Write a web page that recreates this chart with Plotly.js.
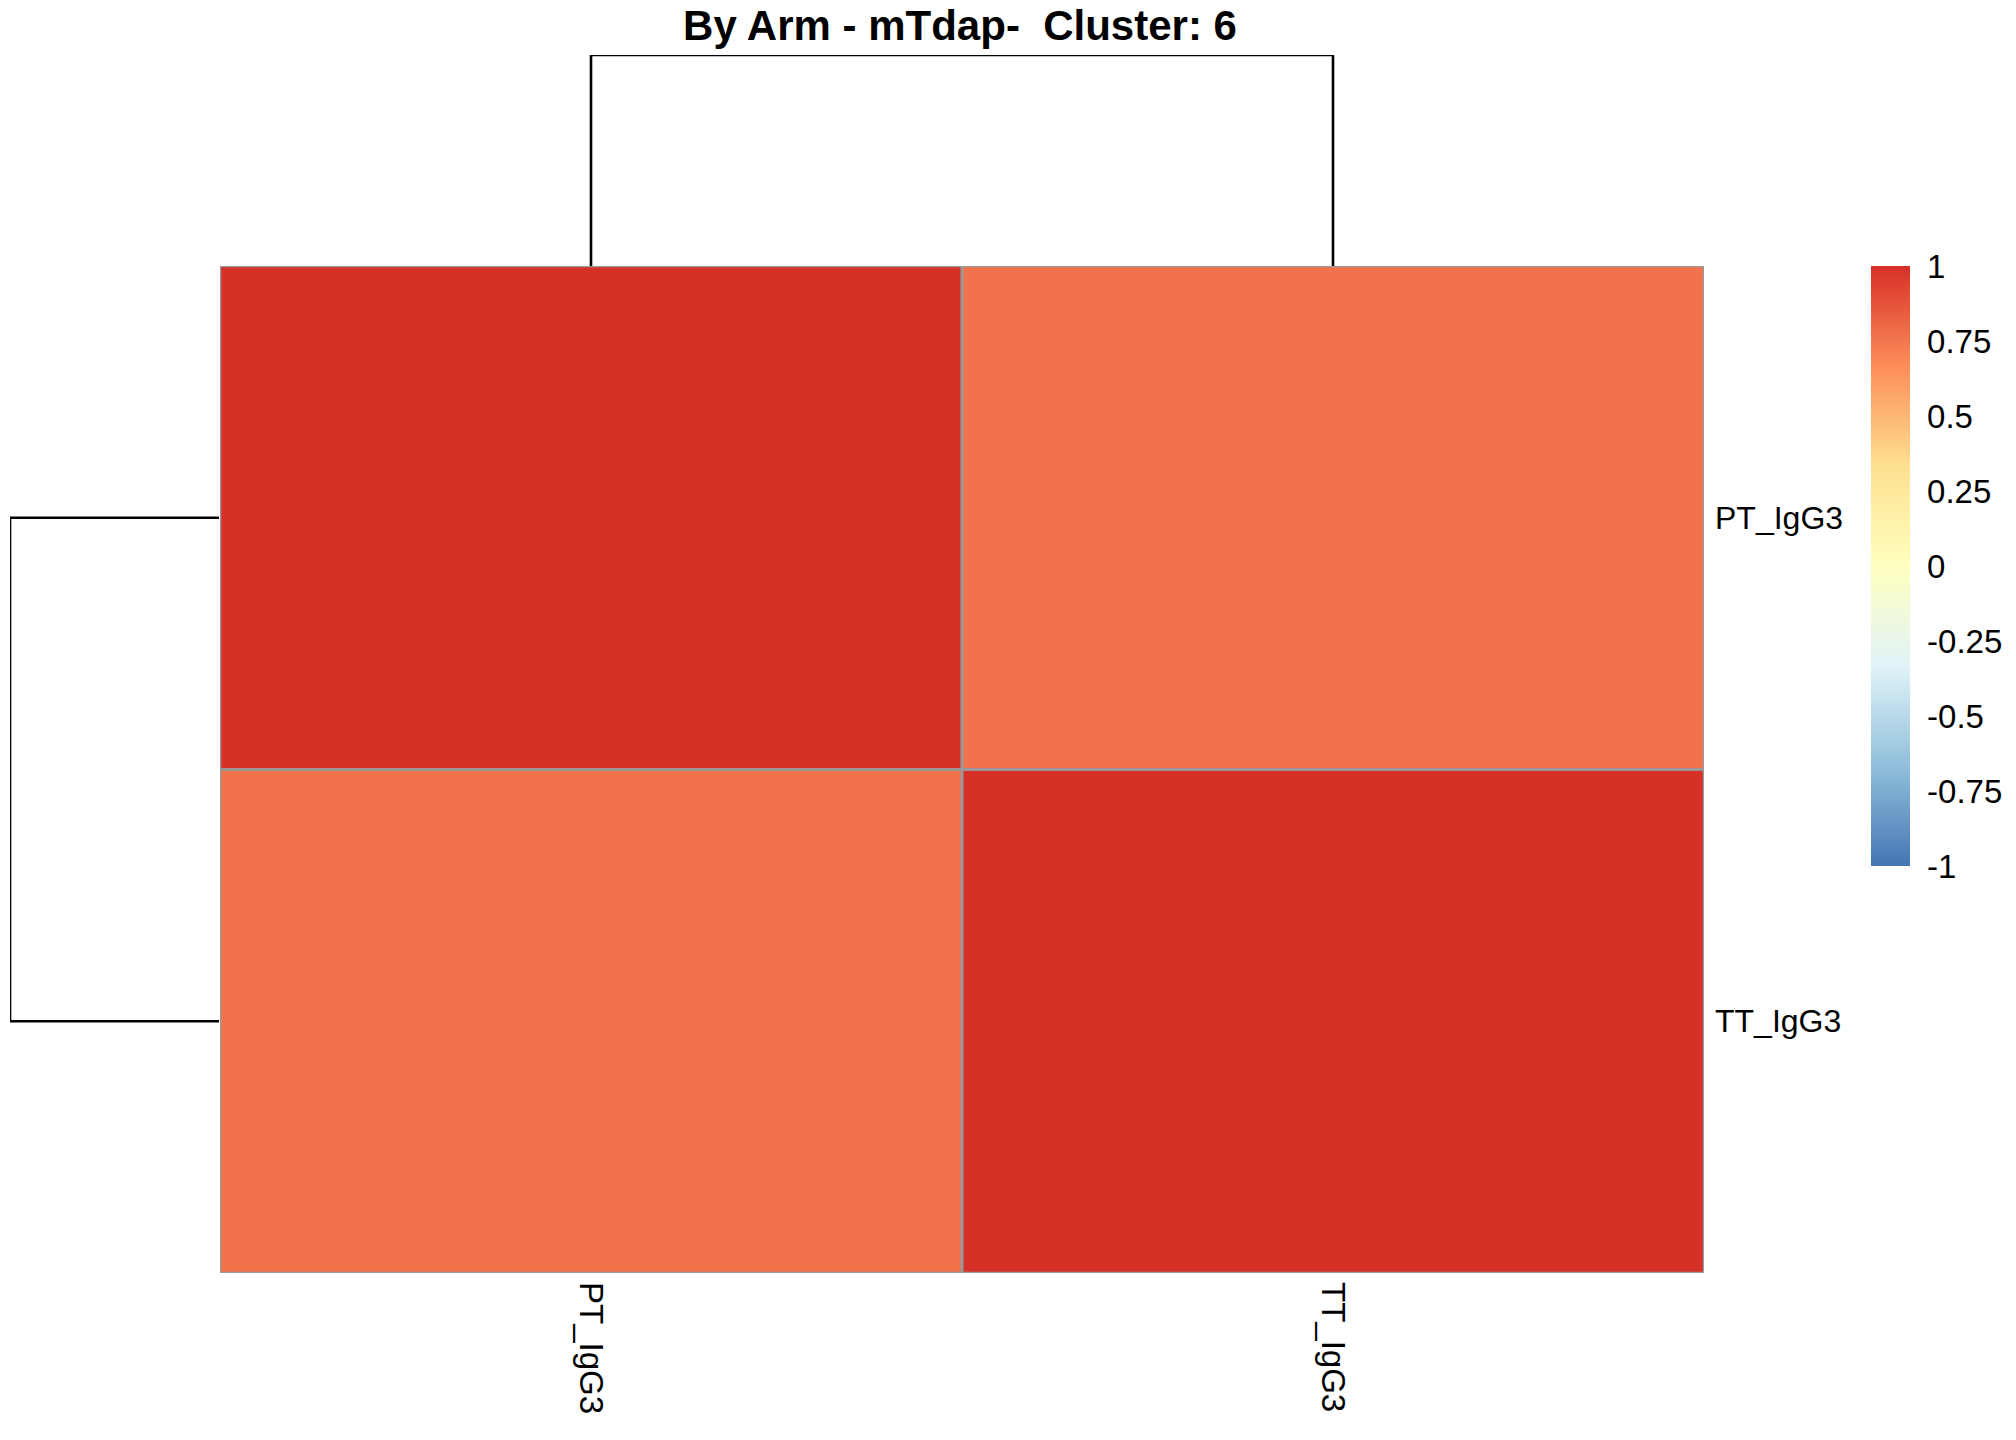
<!DOCTYPE html>
<html>
<head>
<meta charset="utf-8">
<script src="https://cdn.plot.ly/plotly-3.0.1.min.js"></script>
<style>
  html, body { margin: 0; padding: 0; background: #fff; }
  #chart { width: 2016px; height: 1440px; }
</style>
</head>
<body>
<div id="chart"></div>
<script>
// correlation heatmap, pheatmap-style: title, column/row dendrograms, legend on the right

const chartTitle = 'By Arm - mTdap- \u00a0Cluster: 6';
const rowLabels = ['PT_IgG3', 'TT_IgG3'];
const colLabels = ['PT_IgG3', 'TT_IgG3'];
const corrValues = [
  [1.00, 0.76],
  [0.76, 1.00],
];
// single merge in each tree (leaf 0 + leaf 1)
const colMergeHeight = 0.34;
const rowMergeHeight = 0.34;

const legendTicks = [-1, -0.75, -0.5, -0.25, 0, 0.25, 0.5, 0.75, 1];
const legendText = ['-1', '-0.75', '-0.5', '-0.25', '0', '0.25', '0.5', '0.75', '1'];

// rev(brewer.pal(7, "RdYlBu"))
const paletteRdYlBu = ['#4575B4', '#91BFDB', '#E0F3F8', '#FFFFBF', '#FEE090', '#FC8D59', '#D73027'];

const W = 2016, H = 1440;
const FONT = 'Liberation Sans, Arial, Helvetica, sans-serif';
const px = (v) => v / W;
const py = (v) => 1 - v / H;

// heatmap box in page pixels
const box = { left: 220, right: 1704, top: 266, bottom: 1273 };

const idx = (arr) => arr.map((_, i) => i);
const colscale = paletteRdYlBu.map((c, i) => [i / (paletteRdYlBu.length - 1), c]);

const heat = {
  type: 'heatmap',
  z: corrValues,
  x: idx(colLabels),
  y: idx(rowLabels),
  zmin: -1, zmax: 1,
  colorscale: colscale,
  hoverinfo: 'skip',
  colorbar: {
    x: px(1871), xanchor: 'left', xpad: 0,
    y: py(266), yanchor: 'top', ypad: 0,
    len: 600, lenmode: 'pixels',
    thickness: 39, thicknessmode: 'pixels',
    outlinewidth: 0,
    tickmode: 'array', tickvals: legendTicks, ticktext: legendText,
    ticks: 'outside', ticklen: 11, tickcolor: 'rgba(0,0,0,0)',
    tickfont: { family: FONT, size: 33, color: '#000' },
  },
};

// column tree (leaves 0 and 1 joined at colMergeHeight)
const colTree = {
  type: 'scatter', mode: 'lines', xaxis: 'x2', yaxis: 'y2',
  x: [0, 0, 1, 1], y: [0, colMergeHeight, colMergeHeight, 0],
  line: { color: '#000', width: 2.6 }, hoverinfo: 'skip', showlegend: false,
};
// row tree, root on the left
const rowTree = {
  type: 'scatter', mode: 'lines', xaxis: 'x3', yaxis: 'y3',
  x: [0, rowMergeHeight, rowMergeHeight, 0], y: [0, 0, 1, 1],
  line: { color: '#000', width: 2.6 }, hoverinfo: 'skip', showlegend: false,
};

// grey cell borders
const shapes = [];
rowLabels.forEach((_, r) => colLabels.forEach((_, c) => {
  shapes.push({
    type: 'rect', xref: 'x', yref: 'y',
    x0: c - 0.5, x1: c + 0.5, y0: r - 0.5, y1: r + 0.5,
    line: { color: '#999999', width: 2.6 }, fillcolor: 'rgba(0,0,0,0)',
  });
}));

const hidden = { showgrid: false, zeroline: false, showticklabels: false, ticks: '', showline: false, fixedrange: true };
const cellRange = (n) => [-0.5, n - 0.5];

const layout = {
  width: W, height: H,
  margin: { l: 0, r: 0, t: 0, b: 0 },
  paper_bgcolor: '#fff', plot_bgcolor: '#fff',
  showlegend: false,
  title: {
    text: '<b>' + chartTitle + '</b>',
    font: { family: FONT, size: 42, color: '#000' },
    x: px(960), xanchor: 'center', xref: 'paper',
    y: py(25), yanchor: 'middle', yref: 'container',
  },
  xaxis: {
    ...hidden,
    domain: [px(box.left), px(box.right)],
    range: cellRange(colLabels.length),
    showticklabels: true, tickmode: 'array', tickvals: idx(colLabels), ticktext: colLabels,
    tickangle: 90, ticklabelstandoff: 8,
    tickfont: { family: FONT, size: 33, color: '#000' },
  },
  yaxis: {
    ...hidden,
    domain: [py(box.bottom), py(box.top)],
    range: cellRange(rowLabels.length).reverse(),
    side: 'right',
    showticklabels: true, tickmode: 'array', tickvals: idx(rowLabels), ticktext: rowLabels,
    ticklabelstandoff: 10,
    tickfont: { family: FONT, size: 32, color: '#000' },
  },
  xaxis2: { ...hidden, anchor: 'y2', domain: [px(box.left), px(box.right)], range: cellRange(colLabels.length) },
  yaxis2: { ...hidden, anchor: 'x2', domain: [py(box.top), py(55)], range: [0, colMergeHeight] },
  xaxis3: { ...hidden, anchor: 'y3', domain: [px(10), px(box.left - 1)], range: [rowMergeHeight, 0] },
  yaxis3: { ...hidden, anchor: 'x3', domain: [py(box.bottom), py(box.top)], range: cellRange(rowLabels.length).reverse() },
  shapes,
};

Plotly.newPlot('chart', [heat, colTree, rowTree], layout, { displayModeBar: false, staticPlot: true });
</script>
</body>
</html>
